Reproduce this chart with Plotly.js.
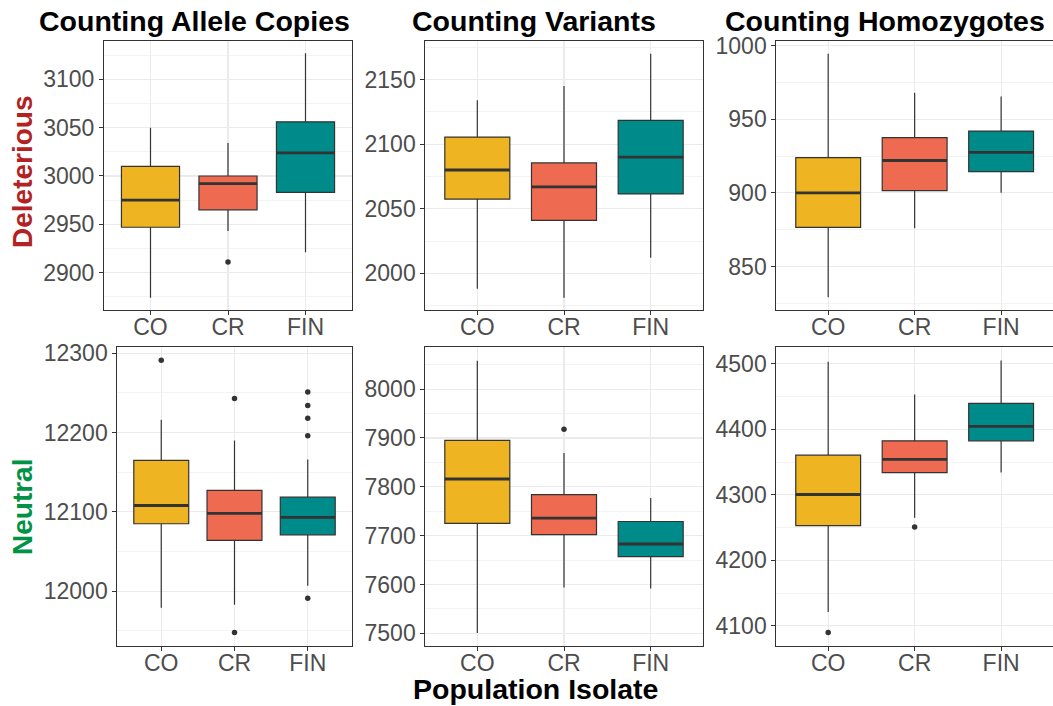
<!DOCTYPE html>
<html>
<head>
<meta charset="utf-8">
<script src="https://cdn.plot.ly/plotly-3.0.1.min.js"></script>
<style>html,body{margin:0;padding:0;background:#fff;}#chart{width:1053px;height:706px;}</style>
</head>
<body>
<div id="chart"></div>
<script>
// ---------- DATA ----------
const categories = ["CO", "CR", "FIN"];
const colTitles = ["Counting Allele Copies", "Counting Variants", "Counting Homozygotes"];
const rowTitles = ["Deleterious", "Neutral"];
const xTitle = "Population Isolate";

// Deleterious – allele copies
const delAlleleLower = [2874, 2943, 2921];
const delAlleleQ1    = [2947, 2965, 2983];
const delAlleleMed   = [2975, 2992, 3024];
const delAlleleQ3    = [3010, 3000, 3056];
const delAlleleUpper = [3050, 3034, 3127];
const delAlleleOutCat = ["CR"];
const delAlleleOutVal = [2911];

// Deleterious – variants
const delVarLower = [1988, 1981, 2012];
const delVarQ1    = [2057.5, 2041, 2061.5];
const delVarMed   = [2080, 2067, 2090];
const delVarQ3    = [2105.5, 2085.5, 2118.5];
const delVarUpper = [2134, 2145, 2170];
const delVarOutCat = [];
const delVarOutVal = [];

// Deleterious – homozygotes
const delHomLower = [829, 876, 900];
const delHomQ1    = [876.5, 901.5, 914.5];
const delHomMed   = [900, 922, 927.5];
const delHomQ3    = [924, 937.5, 942];
const delHomUpper = [994.5, 968, 965.5];
const delHomOutCat = [];
const delHomOutVal = [];

// Neutral – allele copies
const neuAlleleLower = [11979, 11983, 12007];
const neuAlleleQ1    = [12085, 12064, 12071];
const neuAlleleMed   = [12108, 12098, 12093];
const neuAlleleQ3    = [12165, 12127, 12118.5];
const neuAlleleUpper = [12216, 12190, 12166];
const neuAlleleOutCat = ["CO", "CR", "CR", "FIN", "FIN", "FIN", "FIN", "FIN"];
const neuAlleleOutVal = [12291, 12243, 11948, 12251, 12234, 12218, 12196, 11991];

// Neutral – variants
const neuVarLower = [7501, 7594, 7592];
const neuVarQ1    = [7725, 7702, 7657];
const neuVarMed   = [7816, 7736, 7683];
const neuVarQ3    = [7895, 7784, 7729];
const neuVarUpper = [8058, 7869, 7777];
const neuVarOutCat = ["CR"];
const neuVarOutVal = [7918];

// Neutral – homozygotes
const neuHomLower = [4121, 4265, 4334];
const neuHomQ1    = [4253, 4334, 4382.5];
const neuHomMed   = [4300.5, 4354, 4404.5];
const neuHomQ3    = [4360.5, 4382.5, 4439.5];
const neuHomUpper = [4503, 4453, 4505];
const neuHomOutCat = ["CO", "CR"];
const neuHomOutVal = [4090, 4251];

const fillColors = ["#EEB422", "#EE6A50", "#008B8B"];

// ---------- LAYOUT HELPERS ----------
const W = 1053, H = 706;
const px = v => v / W;
const py = v => 1 - v / H;

const panels = [
  {lo: delAlleleLower, q1: delAlleleQ1, md: delAlleleMed, q3: delAlleleQ3, hi: delAlleleUpper, oc: delAlleleOutCat, ov: delAlleleOutVal,
   xd: [104, 352], yd: [41, 310], range: [2861.4, 3139.6], dtick: 50},
  {lo: delVarLower, q1: delVarQ1, md: delVarMed, q3: delVarQ3, hi: delVarUpper, oc: delVarOutCat, ov: delVarOutVal,
   xd: [425.3, 702.7], yd: [41, 310], range: [1971.6, 2179.9], dtick: 50},
  {lo: delHomLower, q1: delHomQ1, md: delHomMed, q3: delHomQ3, hi: delHomUpper, oc: delHomOutCat, ov: delHomOutVal,
   xd: [776.3, 1053], yd: [41, 310], range: [820.4, 1003.2], dtick: 50},
  {lo: neuAlleleLower, q1: neuAlleleQ1, md: neuAlleleMed, q3: neuAlleleQ3, hi: neuAlleleUpper, oc: neuAlleleOutCat, ov: neuAlleleOutVal,
   xd: [117.3, 351.7], yd: [347, 646], range: [11930.9, 12307.8], dtick: 100},
  {lo: neuVarLower, q1: neuVarQ1, md: neuVarMed, q3: neuVarQ3, hi: neuVarUpper, oc: neuVarOutCat, ov: neuVarOutVal,
   xd: [425.3, 702.7], yd: [347, 646], range: [7474.2, 8086.2], dtick: 100},
  {lo: neuHomLower, q1: neuHomQ1, md: neuHomMed, q3: neuHomQ3, hi: neuHomUpper, oc: neuHomOutCat, ov: neuHomOutVal,
   xd: [776.3, 1053], yd: [347, 646], range: [4069.2, 4525.7], dtick: 100}
];

const FONT = "Liberation Sans, Arial, Helvetica, sans-serif";
const tickFont = {family: FONT, size: 23, color: "#4D4D4D"};
const traces = [];
const layout = {
  width: W, height: H,
  margin: {l: 0, r: 0, t: 0, b: 0},
  paper_bgcolor: "#FFFFFF",
  plot_bgcolor: "#FFFFFF",
  showlegend: false,
  boxmode: "overlay",
  annotations: []
};

panels.forEach((p, i) => {
  const n = i + 1;
  const xa = "x" + (n === 1 ? "" : n), ya = "y" + (n === 1 ? "" : n);
  const xk = "xaxis" + (n === 1 ? "" : n), yk = "yaxis" + (n === 1 ? "" : n);

  categories.forEach((c, j) => {
    traces.push({
      type: "box", xaxis: xa, yaxis: ya,
      x: [c], q1: [p.q1[j]], median: [p.md[j]], q3: [p.q3[j]],
      lowerfence: [p.lo[j]], upperfence: [p.hi[j]],
      width: 0.75, whiskerwidth: 0, boxpoints: false,
      fillcolor: fillColors[j],
      line: {color: "#333333", width: 1.2},
      hoverinfo: "skip"
    });
  });
  // thick median bars
  traces.push({
    type: "box", xaxis: xa, yaxis: ya,
    x: categories, q1: p.md, median: p.md, q3: p.md, lowerfence: p.md, upperfence: p.md,
    width: 0.75, whiskerwidth: 0, boxpoints: false,
    fillcolor: "rgba(0,0,0,0)",
    line: {color: "#333333", width: 2.8},
    hoverinfo: "skip"
  });
  // outliers
  if (p.oc.length) {
    traces.push({
      type: "scatter", mode: "markers", xaxis: xa, yaxis: ya,
      x: p.oc, y: p.ov,
      marker: {color: "#333333", size: 5.5},
      hoverinfo: "skip"
    });
  }

  layout[xk] = {
    domain: [px(p.xd[0]), px(p.xd[1])],
    anchor: ya,
    type: "category", categoryarray: categories, categoryorder: "array",
    range: [-0.6, 2.6],
    showgrid: true, gridcolor: "#EBEBEB", gridwidth: 1.1,
    zeroline: false,
    showline: true, mirror: true, linecolor: "#333333", linewidth: 1,
    ticks: "outside", ticklen: 4, tickcolor: "#333333", tickwidth: 1,
    ticklabelstandoff: -8,
    tickfont: tickFont,
    fixedrange: true
  };
  layout[yk] = {
    domain: [py(p.yd[1]), py(p.yd[0])],
    anchor: xa,
    range: p.range,
    tick0: 0, dtick: p.dtick, tickformat: "d",
    showgrid: true, gridcolor: "#EBEBEB", gridwidth: 1.1,
    minor: {dtick: p.dtick / 2, tick0: 0, showgrid: true, gridcolor: "#EBEBEB", gridwidth: 0.6, ticks: ""},
    zeroline: false,
    showline: true, mirror: true, linecolor: "#333333", linewidth: 1,
    ticks: "outside", ticklen: 4, tickcolor: "#333333", tickwidth: 1,
    tickfont: tickFont,
    fixedrange: true
  };
});

const titleFont = {family: FONT, size: 28.5, color: "#000000"};
const colCenters = [194.5, 534, 885];
colTitles.forEach((t, i) => {
  layout.annotations.push({
    text: "<b>" + t + "</b>", xref: "paper", yref: "paper",
    x: px(colCenters[i]), y: py(21), xanchor: "center", yanchor: "middle",
    showarrow: false, font: titleFont
  });
});
const rowColors = ["#B22222", "#009245"];
const rowCenters = [171.5, 507.5];
rowTitles.forEach((t, i) => {
  layout.annotations.push({
    text: "<b>" + t + "</b>", xref: "paper", yref: "paper",
    x: px(22.5), y: py(rowCenters[i]), xanchor: "center", yanchor: "middle",
    textangle: -90, showarrow: false,
    font: {family: FONT, size: 28, color: rowColors[i]}
  });
});
layout.annotations.push({
  text: "<b>" + xTitle + "</b>", xref: "paper", yref: "paper",
  x: px(535), y: py(689), xanchor: "center", yanchor: "middle",
  showarrow: false, font: titleFont
});

Plotly.newPlot("chart", traces, layout, {displayModeBar: false, staticPlot: true});
</script>
</body>
</html>
